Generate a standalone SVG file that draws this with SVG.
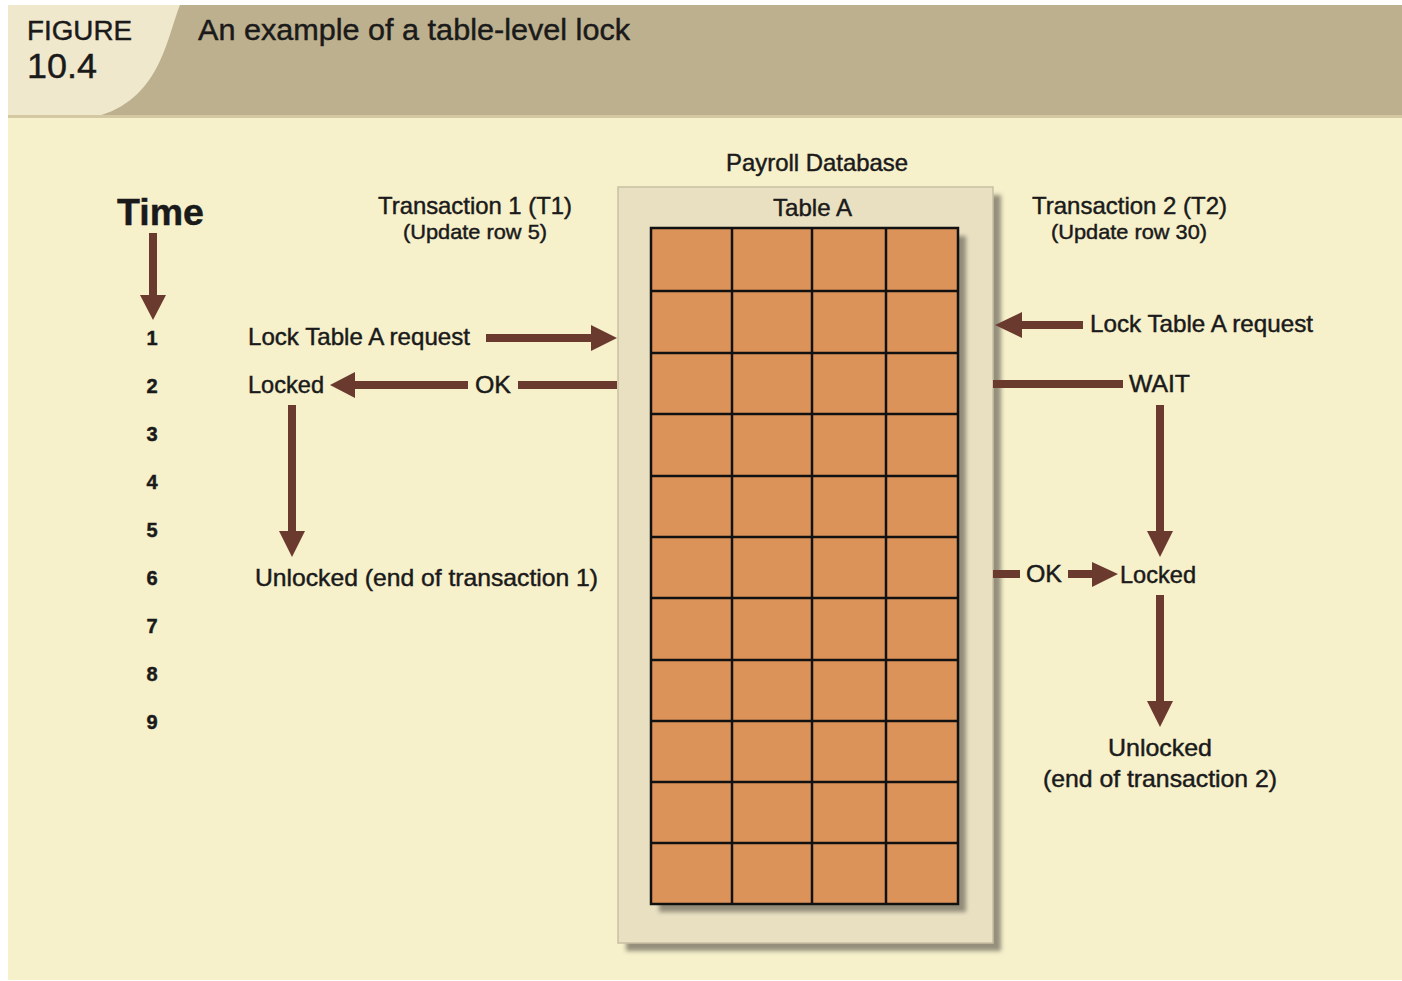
<svg xmlns="http://www.w3.org/2000/svg" width="1402" height="981" viewBox="0 0 1402 981">
<defs>
<style>
text{font-family:"Liberation Sans",Arial,sans-serif;fill:#1a1a1a;stroke:#1a1a1a;stroke-width:0.45px}
.lbl{font-size:24px}
.sub{font-size:21px}
.num{font-size:20px;font-weight:bold;text-anchor:middle}
.arr{fill:#6b3a2e}
.grid{stroke:#111;stroke-width:2.5;fill:none}
</style>
<filter id="sh" x="-10%" y="-10%" width="130%" height="130%">
<feGaussianBlur stdDeviation="2"/>
</filter>
</defs>
<rect x="0" y="0" width="1402" height="981" fill="#ffffff"/>
<rect x="8" y="5" width="1394" height="975" fill="#f6f0cb"/>
<rect x="8" y="5" width="1394" height="112" fill="#bdb08e"/>
<path d="M8 5 H180 C166 40 160 100 95 117 H8 Z" fill="#f0e8cc"/>
<rect x="8" y="115" width="1394" height="3" fill="#d3c8a2"/>
<g id="header">
<text x="27" y="40" style="font-size:27px" textLength="105" lengthAdjust="spacingAndGlyphs">FIGURE</text>
<text x="27" y="78" style="font-size:35px" textLength="70" lengthAdjust="spacingAndGlyphs">10.4</text>
<text x="198" y="40" style="font-size:30px" textLength="432" lengthAdjust="spacingAndGlyphs">An example of a table-level lock</text>
</g>
<g id="time">
<text x="117" y="225" style="font-size:37px;font-weight:bold" textLength="87" lengthAdjust="spacingAndGlyphs">Time</text>
<text class="num" x="152" y="345">1</text>
<text class="num" x="152" y="393">2</text>
<text class="num" x="152" y="441">3</text>
<text class="num" x="152" y="489">4</text>
<text class="num" x="152" y="537">5</text>
<text class="num" x="152" y="585">6</text>
<text class="num" x="152" y="633">7</text>
<text class="num" x="152" y="681">8</text>
<text class="num" x="152" y="729">9</text>
</g>
<g id="table-a">
<text x="726" y="171" class="lbl" textLength="182" lengthAdjust="spacingAndGlyphs">Payroll Database</text>
<rect x="626" y="195" width="375" height="756" fill="#7d7868" filter="url(#sh)" opacity="0.8"/>
<rect x="618" y="187" width="375" height="756" fill="#e9e0c2" stroke="#c8c0a4" stroke-width="1.5"/>
<text x="773" y="216" class="lbl" textLength="79" lengthAdjust="spacingAndGlyphs">Table A</text>
<rect x="659" y="236" width="307" height="676" fill="#7d7868" filter="url(#sh)" opacity="0.8"/>
<rect x="651" y="228" width="307" height="676" fill="#dc935a"/>
<path class="grid" d="M732 228V904M812 228V904M886 228V904M651 291H958M651 353H958M651 414H958M651 476H958M651 537H958M651 598H958M651 660H958M651 721H958M651 782H958M651 843H958"/>
<rect class="grid" x="651" y="228" width="307" height="676"/>
</g>
<g id="t1">
<text x="378" y="214" class="lbl" textLength="194" lengthAdjust="spacingAndGlyphs">Transaction 1 (T1)</text>
<text x="403" y="239" class="sub" textLength="144" lengthAdjust="spacingAndGlyphs">(Update row 5)</text>
<text x="248" y="345" class="lbl" textLength="222" lengthAdjust="spacingAndGlyphs">Lock Table A request</text>
<text x="248" y="393" class="lbl" textLength="76" lengthAdjust="spacingAndGlyphs">Locked</text>
<text x="475" y="393" class="lbl" textLength="36" lengthAdjust="spacingAndGlyphs">OK</text>
<text x="255" y="586" class="lbl" textLength="343" lengthAdjust="spacingAndGlyphs">Unlocked (end of transaction 1)</text>
</g>
<g id="t2">
<text x="1032" y="214" class="lbl" textLength="195" lengthAdjust="spacingAndGlyphs">Transaction 2 (T2)</text>
<text x="1051" y="239" class="sub" textLength="156" lengthAdjust="spacingAndGlyphs">(Update row 30)</text>
<text x="1090" y="332" class="lbl" textLength="223" lengthAdjust="spacingAndGlyphs">Lock Table A request</text>
<text x="1129" y="392" class="lbl" textLength="61" lengthAdjust="spacingAndGlyphs">WAIT</text>
<text x="1026" y="582" class="lbl" textLength="36" lengthAdjust="spacingAndGlyphs">OK</text>
<text x="1120" y="583" class="lbl" textLength="76" lengthAdjust="spacingAndGlyphs">Locked</text>
<text x="1108" y="756" class="lbl" textLength="104" lengthAdjust="spacingAndGlyphs">Unlocked</text>
<text x="1043" y="787" class="lbl" textLength="234" lengthAdjust="spacingAndGlyphs">(end of transaction 2)</text>
</g>
<g id="connectors">
<path class="arr" d="M149 233H157V295H166L153 320L140 295H149Z"/>
<path class="arr" d="M486 334H591V325L617 338L591 351V342H486Z"/>
<path class="arr" d="M617 381V389H518V381ZM468 381V389H355V398L330 385L355 372V381Z"/>
<path class="arr" d="M288 405H296V531H305L292 557L279 531H288Z"/>
<path class="arr" d="M1083 321V329H1022V338L995 325L1022 312V321Z"/>
<path class="arr" d="M993 380H1123V388H993Z"/>
<path class="arr" d="M1156 405H1164V531H1173L1160 557L1147 531H1156Z"/>
<path class="arr" d="M993 570H1020V578H993ZM1068 570H1092V562L1118 574L1092 587V578H1068Z"/>
<path class="arr" d="M1156 595H1164V701H1173L1160 727L1147 701H1156Z"/>
</g>
</svg>
